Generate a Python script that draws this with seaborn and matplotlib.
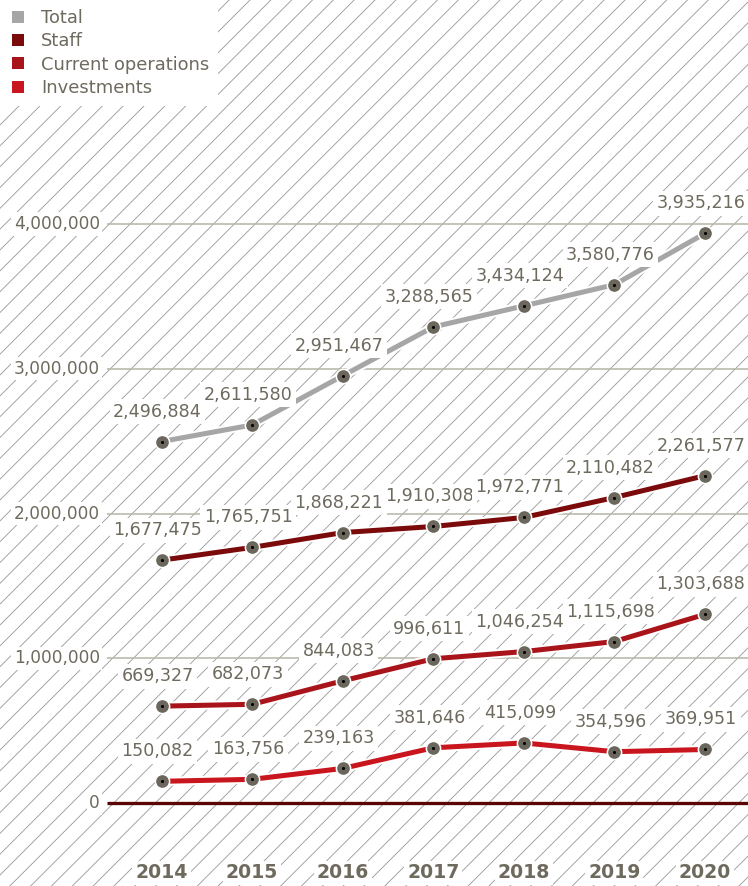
import numpy as np
import pandas as pd
import matplotlib
matplotlib.use("Agg")
import matplotlib.pyplot as plt
import matplotlib.patheffects as pe
from matplotlib.patches import Rectangle
from matplotlib.lines import Line2D
import seaborn as sns

years = ["2014", "2015", "2016", "2017", "2018", "2019", "2020"]
total = [2496884, 2611580, 2951467, 3288565, 3434124, 3580776, 3935216]
staff = [1677475, 1765751, 1868221, 1910308, 1972771, 2110482, 2261577]
current_ops = [669327, 682073, 844083, 996611, 1046254, 1115698, 1303688]
investments = [150082, 163756, 239163, 381646, 415099, 354596, 369951]
series_names = ["Total", "Staff", "Current operations", "Investments"]
yticks = [0, 1000000, 2000000, 3000000, 4000000]

colors = {"Total": "#a6a6a6", "Staff": "#7b0a0a",
          "Current operations": "#a8141a", "Investments": "#c9161e"}
text_col = "#6e6a5e"

sns.set_style("white")
plt.rcParams["font.family"] = ["DejaVu Sans"]
plt.rcParams["hatch.linewidth"] = 0.5

DPI = 125
fig = plt.figure(figsize=(748 / DPI, 886 / DPI), dpi=DPI)
ax = fig.add_axes([0, 0, 1, 1])
ax.set_xlim(-1.783, 6.474)
ax.set_ylim(-0.573e6, 5.547e6)
ax.axis("off")

# hatched background
bg = Rectangle((0, 0), 1, 1, transform=ax.transAxes, facecolor="white",
               edgecolor="#9a9a9a", linewidth=0, hatch="//", zorder=0)
ax.add_patch(bg)

x = np.arange(len(years))
df = pd.DataFrame({"x": np.tile(x, 4),
                   "value": total + staff + current_ops + investments,
                   "series": np.repeat(series_names, len(years))})

# grid lines
ax.hlines(yticks[1:], -0.6, 6.6, color="#b7b6a6", lw=0.9, zorder=1)
ax.hlines([0], -0.6, 6.6, color="#5a0404", lw=1.9, zorder=2)
for t in yticks:
    ax.text(-0.68, t, f"{t:,}", ha="right", va="center", fontsize=9.8,
            color=text_col, zorder=6,
            bbox=dict(boxstyle="square,pad=0.15", fc="white", ec="none"))

halo = [pe.Stroke(linewidth=5.2, foreground="white"), pe.Normal()]
for name in series_names:
    d = df[df.series == name]
    sns.lineplot(data=d, x="x", y="value", color=colors[name], lw=2.9,
                 ax=ax, zorder=3, path_effects=halo, legend=False)
    ax.plot(d.x, d.value, ls="none", marker="o", ms=8.2, mfc="#6b675c",
            mec="white", mew=0.9, zorder=7)
    ax.plot(d.x, d.value, ls="none", marker="o", ms=1.8, mfc="black",
            mec="none", zorder=8)
    for xi, v in zip(d.x, d.value):
        ax.annotate(f"{v:,}", (xi, v), xytext=(-4, 30),
                    textcoords="offset pixels", ha="center", va="center",
                    fontsize=10.1, color=text_col, zorder=5,
                    bbox=dict(boxstyle="square,pad=0.2", fc="white", ec="none"))

for xi, yr in zip(x, years):
    ax.text(xi, -0.483e6, yr, ha="center", va="center", fontsize=10.9,
            fontweight="bold", color=text_col, zorder=5,
            bbox=dict(boxstyle="square,pad=0.15", fc="white", ec="none"))

handles = [Line2D([], [], ls="none", marker="s", ms=7.0, mfc=colors[n],
                  mec="none") for n in series_names]
leg = ax.legend(handles, series_names, loc="upper left",
                bbox_to_anchor=(0, 1), bbox_transform=fig.transFigure,
                borderaxespad=0, frameon=True, fancybox=False,
                fontsize=10.3, labelcolor=text_col, handlelength=1.0,
                handletextpad=0.8, labelspacing=0.3, borderpad=0.5)
leg.get_frame().set_facecolor("white")
leg.get_frame().set_edgecolor("none")
leg.get_frame().set_alpha(1)
leg.set_zorder(10)

fig.savefig("out.png", dpi=DPI)
